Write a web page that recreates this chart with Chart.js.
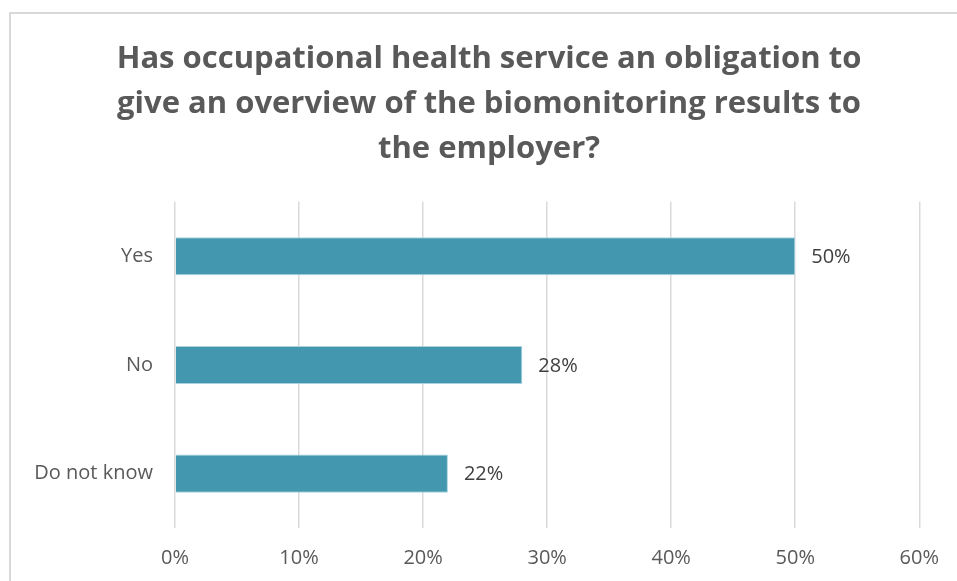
<!DOCTYPE html>
<html>
<head>
<meta charset="utf-8">
<script src="https://cdn.jsdelivr.net/npm/chart.js@4/dist/chart.umd.min.js"></script>
<style>
  html, body { margin: 0; padding: 0; background: #fff; }
  #wrap { position: relative; width: 957px; height: 581px; overflow: hidden; }
  #frame { position: absolute; left: 9px; top: 12px; width: 980px; height: 620px; border: 2px solid #d9d9d9; box-sizing: border-box; }
  #box { position: absolute; left: 0; top: 0; width: 957px; height: 581px; }
</style>
</head>
<body>
<div id="wrap">
  <div id="frame"></div>
  <div id="box"><canvas id="chart"></canvas></div>
</div>
<script>
  // Survey answers and their share of respondents (%)
  var answers = ["Yes", "No", "Do not know"];
  var shares = [50, 28, 22];
  var titleLines = [
    "Has occupational health service an obligation to",
    "give an overview of the biomonitoring results to",
    "the employer?"
  ];

  var GREY = "#595959";
  Chart.defaults.font.family = "'Open Sans', sans-serif";
  Chart.defaults.color = GREY;

  // Writes the value next to the end of each bar
  var valueLabels = {
    id: "valueLabels",
    afterDatasetsDraw: function (chart) {
      var ctx = chart.ctx;
      var meta = chart.getDatasetMeta(0);
      ctx.save();
      ctx.font = "20px 'Open Sans', sans-serif";
      ctx.fillStyle = "#404040";
      ctx.textAlign = "left";
      ctx.textBaseline = "middle";
      meta.data.forEach(function (bar, i) {
        ctx.fillText(shares[i] + "%", bar.x + 16, bar.y + 1);
      });
      ctx.restore();
    }
  };

  // Centre the title over the frame instead of over the padded canvas
  var titleShift = {
    id: "titleShift",
    afterLayout: function (chart) {
      if (chart.titleBlock) {
        chart.titleBlock.left = 57;
        chart.titleBlock.right = 921;
      }
    }
  };

  new Chart(document.getElementById("chart"), {
    type: "bar",
    data: {
      labels: answers,
      datasets: [{
        data: shares,
        backgroundColor: "#4397af",
        borderColor: "#a9d2de",
        borderWidth: 1,
        borderSkipped: "start",
        categoryPercentage: 1,
        barPercentage: 0.35
      }]
    },
    options: {
      indexAxis: "y",
      responsive: true,
      maintainAspectRatio: false,
      animation: false,
      layout: { padding: { left: 22, right: 36, top: 27, bottom: 12 } },
      plugins: {
        legend: { display: false },
        tooltip: { enabled: false },
        title: {
          display: true,
          text: titleLines,
          color: GREY,
          font: { size: 31, weight: "bold", lineHeight: 1.45 },
          padding: { top: 10, bottom: 30 }
        }
      },
      scales: {
        x: {
          min: 0,
          max: 60,
          afterFit: function (scale) { scale.height = 41; },
          ticks: {
            stepSize: 10,
            padding: 18,
            color: GREY,
            font: { size: 20 },
            callback: function (v) { return v + "%"; }
          },
          grid: { color: "#d9d9d9", lineWidth: 1.5, drawTicks: false },
          border: { display: false }
        },
        y: {
          afterFit: function (scale) { scale.width = 153; },
          ticks: { padding: 14, color: GREY, font: { size: 20 } },
          grid: { display: false },
          border: { display: false }
        }
      }
    },
    plugins: [valueLabels, titleShift]
  });
</script>
</body>
</html>
